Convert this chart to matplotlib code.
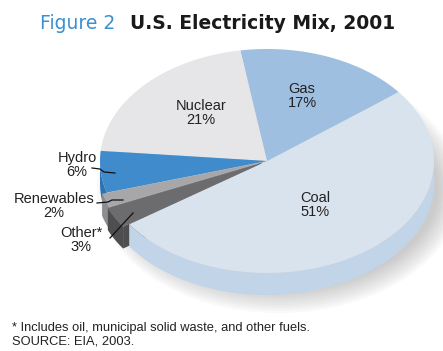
import matplotlib.pyplot as plt
import numpy as np
from matplotlib.patches import Polygon, Ellipse

plt.rcParams['font.family'] = ['Liberation Sans', 'DejaVu Sans']

# data
sources = ["Coal", "Gas", "Nuclear", "Hydro", "Renewables", "Other*"]
shares = [51, 17, 21, 6, 2, 3]
top_colors = ["#d9e3ee", "#9fbfe0", "#e6e6e8", "#3f8bcc", "#a7a7aa", "#6c6c6f"]
side_colors = ["#c2d4e8", "#86a9d0", "#cfcfd2", "#2f72b0", "#8d8d90", "#4e4e51"]
explode = [0, 0, 0, 0, 5, 7]

# layout of the tilted pie, in pixels
cx, cy = 267, 161
a, b = 167, 112
depth = 22
start = 214.4

fig = plt.figure(figsize=(4.43, 3.51), dpi=100)
ax = fig.add_axes([0, 0, 1, 1])
ax.set_xlim(0, 443)
ax.set_ylim(351, 0)
ax.axis('off')


def rim(t, ox, oy, dz=0):
    r = np.radians(t)
    return cx + ox + a * np.cos(r), cy + oy - b * np.sin(r) + dz


# soft shadow under the pie
for k in range(10):
    ax.add_patch(Ellipse((cx + 12, cy + depth + 6), 2 * a + 30 - 5 * k, 2 * b + 24 - 5 * k,
                         color='#707070', alpha=0.04, lw=0, zorder=0))

angles = start + 360 * np.cumsum([0] + shares) / sum(shares)
slices = []
for i in range(len(shares)):
    t0, t1 = angles[i], angles[i + 1]
    m = np.radians((t0 + t1) / 2)
    ox, oy = explode[i] * np.cos(m), -explode[i] * np.sin(m) * b / a
    slices.append((t0, t1, ox, oy))

# radial faces of pulled-out slices
for i, (t0, t1, ox, oy) in enumerate(slices):
    if explode[i] == 0:
        continue
    if np.cos(np.radians(t1)) < 0:
        x1, y1 = rim(t1, ox, oy)
        pts = [(cx + ox, cy + oy), (x1, y1), (x1, y1 + depth), (cx + ox, cy + oy + depth)]
        ax.add_patch(Polygon(pts, closed=True, fc=side_colors[i], ec='none', zorder=1))

# outer side faces on the front half
for i, (t0, t1, ox, oy) in enumerate(slices):
    lo, hi = t0 % 360, t0 % 360 + (t1 - t0)
    for base in (0, 360):
        s, e = max(lo, 180 + base), min(hi, 360 + base)
        if e <= s:
            continue
        ts = np.linspace(s, e, 60)
        xs, ys = rim(ts, ox, oy)
        pts = list(zip(xs, ys)) + list(zip(xs[::-1], ys[::-1] + depth))
        ax.add_patch(Polygon(pts, closed=True, fc=side_colors[i], ec='none', zorder=2))

# top faces
for i, (t0, t1, ox, oy) in enumerate(slices):
    ts = np.linspace(t0, t1, 120)
    xs, ys = rim(ts, ox, oy)
    pts = [(cx + ox, cy + oy)] + list(zip(xs, ys))
    ax.add_patch(Polygon(pts, closed=True, fc=top_colors[i], ec='none', zorder=3))

# labels
fs = 10.5
label_pos = [(315, 205), (302, 96), (201, 113), (77, 165), (54, 206), (81, 240)]
for name, share, (lx, ly) in zip(sources, shares, label_pos):
    ax.text(lx, ly, f"{name}\n{share}%", ha='center', va='center', fontsize=fs,
            color='#222222', linespacing=1.05, zorder=5)

# leader lines
ax.plot([92, 100, 104, 115], [168, 169, 172, 173], color='#111111', lw=0.9, zorder=6)
ax.plot([97, 108, 112, 123], [203, 202, 200, 200], color='#111111', lw=0.9, zorder=6)
ax.plot([110, 133], [238, 213], color='#111111', lw=0.9, zorder=6)

# title
ax.text(40, 29, "Figure 2", ha='left', va='baseline', fontsize=13.5, color='#3a90d0',
        family='DejaVu Sans', zorder=5)
ax.text(130, 29, "U.S. Electricity Mix, 2001", ha='left', va='baseline', fontsize=13.5,
        fontweight='bold', color='#1a1a1a', family='DejaVu Sans', zorder=5)

# footnotes
ax.text(12, 331, "* Includes oil, municipal solid waste, and other fuels.", ha='left',
        va='baseline', fontsize=9.3, color='#222222')
ax.text(12, 344, "SOURCE: EIA, 2003.", ha='left', va='baseline', fontsize=9.3, color='#222222')

fig.savefig("out.png", dpi=100)
